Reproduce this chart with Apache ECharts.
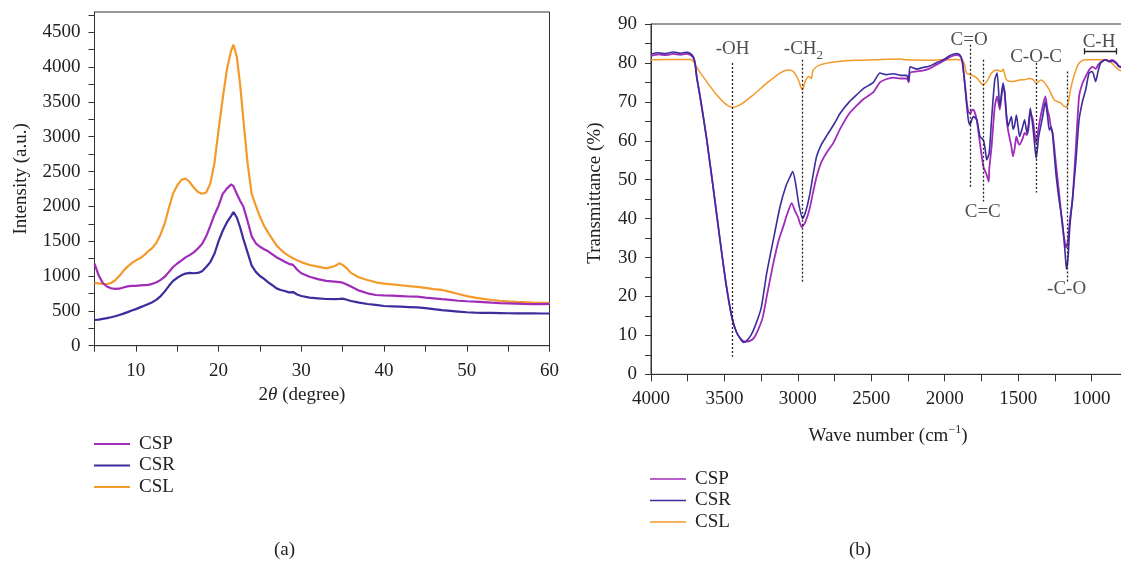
<!DOCTYPE html>
<html><head><meta charset="utf-8">
<script src="https://cdn.jsdelivr.net/npm/echarts@6/dist/echarts.min.js"></script>
<style>html,body{margin:0;padding:0;background:#fff}#c{width:1121px;height:569px}</style>
</head><body><div id="c"></div>
<script>
// ---------- XRD (a) ----------
const xrdAngle = [5,5.5,6,6.5,7,7.5,8,8.5,9,9.5,10,10.5,11,11.5,12,12.5,13,13.5,14,14.5,15,15.5,16,16.5,17,17.5,18,18.5,19,19.5,20,20.5,21,21.5,21.8,22.2,22.6,23,23.5,24,24.5,25,25.5,26,26.5,27,27.5,28,28.5,29,29.5,30,31,32,33,34,34.6,35,35.5,36,37,38,39,40,41,42,43,44,45,46,47,48,49,50,51,52,53,54,55,56,57,58,59,60];
const xrdCSL = [900,895,888,885,900,940,1000,1075,1135,1185,1225,1255,1300,1355,1405,1480,1600,1760,1980,2185,2300,2380,2400,2350,2270,2205,2180,2200,2330,2620,3100,3550,3960,4230,4320,4150,3750,3240,2620,2180,2010,1850,1720,1620,1530,1440,1380,1330,1290,1255,1225,1200,1158,1134,1110,1140,1182,1160,1110,1045,978,943,910,892,880,868,855,845,830,812,800,772,742,712,690,672,656,645,636,630,625,620,616,612];
const xrdCSP = [1180,1010,900,850,825,815,818,835,852,858,860,865,870,874,888,912,945,990,1060,1130,1180,1222,1268,1300,1340,1395,1460,1570,1720,1880,2010,2180,2255,2315,2290,2180,2080,1995,1790,1570,1470,1420,1385,1355,1310,1270,1238,1205,1175,1160,1090,1040,990,955,930,920,912,905,880,850,790,752,728,722,718,712,706,704,690,680,668,658,645,638,632,625,618,612,608,604,600,598,598,600];
const xrdCSR = [369,375,385,395,408,422,440,460,482,505,525,550,575,600,625,662,712,780,860,930,975,1010,1035,1045,1040,1045,1070,1130,1200,1320,1500,1650,1770,1860,1920,1840,1700,1530,1340,1150,1060,1000,960,910,868,823,800,785,765,770,735,713,690,680,670,668,672,675,660,642,618,599,585,570,565,560,555,550,540,525,510,500,490,480,475,472,470,468,466,465,464,463,462,462];
const xrdXTicks = {min:5, max:60, step:5};
const xrdYTicks = {min:0, max:4790, step:250};

// ---------- FTIR (b) ----------
const waveCSR = [4000,3950,3900,3850,3800,3760,3730,3712,3700,3689,3666,3644,3620,3580,3530,3490,3450,3420,3390,3371,3350,3320,3290,3250,3212,3170,3121,3080,3050,3035,3015,2995,2967,2945,2920,2895,2872,2840,2800,2750,2713,2650,2600,2550,2486,2441,2400,2350,2300,2259,2245,2236,2191,2150,2100,2060,2032,2000,1960,1918,1895,1880,1862,1850,1839,1828,1815,1805,1782,1760,1737,1725,1714,1697,1681,1659,1643,1625,1603,1592,1580,1569,1546,1535,1524,1512,1500,1490,1470,1456,1440,1430,1417,1400,1385,1377,1360,1333,1315,1300,1288,1275,1265,1243,1221,1198,1180,1171,1160,1148,1130,1108,1085,1062,1040,1017,995,972,955,938,904,880,859,830,813,760];
const transCSR = [82.3,82.6,82.4,82.8,82.5,82.7,82.4,81.6,80,76.5,71.4,66.2,60.2,49,34.5,23.5,14.8,11,9,8.2,8.6,10,12.5,17,26,34,43.1,48.5,51,52.1,49,44,40,42,46,51.5,56,59,61.5,64.5,67,70,71.8,73.5,75,77.4,77,77.2,76.8,76.8,75.5,79,78.4,78.8,79.2,80,80.4,81,82,82.4,82,80.5,74,69,65.4,64.1,65.5,66.2,65.4,61.1,60.2,58,55.1,56.9,65.4,75.7,77.4,68.8,74.8,72.3,67,63.7,66.2,63,64,66.6,63.5,61.1,63.5,65.4,62,64,68.4,63.7,58,55.5,61.1,66.2,70,66.5,62.8,63.5,61.5,51.7,44.8,38.8,31.1,27,30,38,45,54.2,65.4,70.1,73.1,77.4,77.8,75.2,78,80,80.8,80.3,80.5,79.8,79,78.5];
const waveCSP = [4000,3950,3900,3850,3800,3760,3730,3712,3700,3689,3666,3644,3620,3580,3530,3490,3450,3420,3390,3360,3326,3300,3270,3240,3212,3170,3130,3099,3070,3042,3020,3000,2974,2950,2920,2895,2872,2840,2800,2759,2713,2650,2600,2550,2486,2441,2400,2350,2300,2259,2245,2236,2191,2150,2100,2060,2032,2000,1960,1918,1895,1880,1862,1850,1839,1828,1815,1805,1782,1760,1737,1714,1700,1697,1681,1659,1643,1625,1603,1592,1580,1569,1546,1535,1524,1512,1500,1490,1470,1456,1440,1430,1417,1400,1385,1377,1360,1333,1315,1300,1288,1275,1265,1243,1221,1198,1180,1172,1160,1148,1130,1108,1085,1062,1040,1017,995,972,955,938,904,880,859,830,813,760];
const transCSP = [81.8,82.2,82,82.3,82.1,82.3,82,81.3,79.8,76.5,71.4,66.2,60.2,49,34.5,23.5,14.8,11,9.2,8.4,8.6,9.3,11.5,14.5,20,28,34.5,38,41.5,44,42,40.5,37.8,39,42.5,47,50.8,54.5,57.2,59.4,63,67,69,70.8,72.5,75,75.8,76.2,76,76,75,77.5,77.8,78,78.6,79.5,80,80.7,81.6,82,81.7,80.2,74.5,70,67.5,67,67.8,68,65.4,59.4,53.4,51.2,49.5,52.6,58.5,68.8,71.4,68,74,72.7,66,62.8,58.5,56,58,61.1,59.5,59,60.5,62,61.5,63,67.1,65.4,61,59.4,63.5,68.8,71.4,68,66.2,63,62,54.2,46.5,38,33.5,32.6,34.5,39.7,44.7,57.6,71.4,74.8,76.5,78.2,79,78.5,79.5,80.2,80.8,80.5,80.8,80,79.2,78.8];
const waveCSL = [4000,3900,3800,3730,3712,3678,3621,3553,3485,3444,3394,3303,3212,3121,3065,3031,2997,2970,2947,2924,2909,2895,2849,2713,2600,2488,2300,2259,2100,2032,1918,1873,1851,1828,1794,1771,1741,1714,1681,1647,1613,1603,1580,1546,1490,1456,1422,1400,1377,1343,1310,1288,1254,1209,1180,1164,1141,1118,1085,1040,949,881,813,760];
const transCSL = [80.8,80.9,80.9,80.9,80.4,78.2,75.2,71.8,69.2,68.6,69.2,71.8,74.8,77.4,78.2,77.8,75.7,73.1,75.5,76.5,76,78.2,79.5,80.4,80.7,80.8,81,80.8,80.7,80.8,80.9,80.3,77.4,77,76.5,75.7,74.4,75.2,77.4,78.2,77.8,78.4,75.7,75.2,75.6,75.7,76,75.8,74.8,75.6,74.4,73.1,70.5,69.7,68.7,69,73.6,76.9,79.9,80.8,80.8,80.5,78.2,77.8];
const ftirXTicks = {min:500, max:4000, step:250};
const ftirYTicks = {min:0, max:90, step:5};

// band annotations
const bandNames  = ['-OH','-CH{s|2}','C=O','C=C','C-O-C','-C-O','C-H'];
const bandLabelX = [3444, 2962, 1834, 1741, 1378, 1170, 949];
const bandLabelY = [83.5, 83.5, 86.0, 41.6, 81.4, 21.9, 85.3];
const dropWave   = [3444, 2967, 1828, 1741, 1378, 1165];
const dropTop    = [80.0, 80.8, 84.7, 80.8, 80.0, 77.8];
const dropBottom = [4.5, 23.8, 48.2, 44.4, 46.7, 23.4];
const bracketWave = [1052, 829];
const bracketLevel = 83.0;

const seriesNames = ['CSP','CSR','CSL'];
const colors = {CSP:'#a12cb9', CSR:'#3c2c9c', CSL:'#f39a2b'};

const FONT = "'Liberation Serif','DejaVu Serif',serif";
const TXT = '#222';
const zip = (a,b)=>a.map((v,i)=>[v,b[i]]);

const chart = echarts.init(document.getElementById('c'), null, {renderer:'canvas'});

const axisCommon = {
  axisLine:{show:true, onZero:false, lineStyle:{color:'#333', width:1}},
  axisTick:{show:true, inside:false, length:6, lineStyle:{color:'#333', width:1}},
  splitLine:{show:false},
  nameTextStyle:{fontFamily:FONT, fontSize:19, color:TXT},
};
const lbl = (extra)=>Object.assign({fontFamily:FONT, fontSize:19, color:TXT}, extra);

const dropLines = dropWave.map((w,i)=>[{coord:[w, dropTop[i]]},{coord:[w, dropBottom[i]]}]);
const bracketLines = [
  [{coord:[bracketWave[0], bracketLevel]},{coord:[bracketWave[1], bracketLevel]}],
  [{coord:[bracketWave[0], bracketLevel-0.8]},{coord:[bracketWave[0], bracketLevel+0.8]}],
  [{coord:[bracketWave[1], bracketLevel-0.8]},{coord:[bracketWave[1], bracketLevel+0.8]}]
];

const option = {
  animation:false,
  backgroundColor:'#fff',
  grid:[
    {left:94.5, top:12, width:455, height:333.7, show:true, borderColor:'#333', borderWidth:1, containLabel:false, outerBoundsMode:'none'},
    {left:651, top:24, width:514, height:350.3, show:true, borderColor:'#333', borderWidth:1, containLabel:false, outerBoundsMode:'none'}
  ],
  xAxis:[
    Object.assign({}, axisCommon, {
      gridIndex:0, type:'value', min:xrdXTicks.min, max:xrdXTicks.max, interval:xrdXTicks.step,
      axisLabel:lbl({margin:16, formatter:v=> v%10===0 ? String(v) : ''}),
      name:'2{it|θ} (degree)', nameLocation:'middle', nameGap:40,
      nameTextStyle:{fontFamily:FONT, fontSize:19, color:TXT, padding:[0,40,0,0],
        rich:{it:{fontFamily:FONT, fontSize:19, fontStyle:'italic', color:TXT}}}
    }),
    Object.assign({}, axisCommon, {
      gridIndex:1, type:'value', inverse:true, min:ftirXTicks.min, max:ftirXTicks.max, interval:ftirXTicks.step,
      axisTick:{show:true, length:7, lineStyle:{color:'#333'}},
      axisLabel:lbl({margin:15, formatter:v=> v%500===0 ? String(v) : ''}),
      name:'Wave number (cm{sup|−1})', nameLocation:'middle', nameGap:50,
      nameTextStyle:{fontFamily:FONT, fontSize:19, color:TXT, padding:[0,40,0,0],
        rich:{sup:{fontFamily:FONT, fontSize:12, color:TXT, padding:[0,0,12,0]}}}
    })
  ],
  yAxis:[
    Object.assign({}, axisCommon, {
      gridIndex:0, type:'value', min:xrdYTicks.min, max:xrdYTicks.max, interval:xrdYTicks.step,
      axisLabel:lbl({margin:14, showMaxLabel:false, formatter:v=> v%500===0 ? String(v) : ''}),
      name:'Intensity (a.u.)', nameLocation:'middle', nameGap:64
    }),
    Object.assign({}, axisCommon, {
      gridIndex:1, type:'value', min:ftirYTicks.min, max:ftirYTicks.max, interval:ftirYTicks.step,
      axisLabel:lbl({margin:14, formatter:v=> v%10===0 ? String(v) : ''}),
      name:'Transmittance (%)', nameLocation:'middle', nameGap:46,
      nameTextStyle:{fontFamily:FONT, fontSize:19, color:TXT, padding:[0,0,0,12]}
    })
  ],
  legend:[
    {data:seriesNames, orient:'vertical', left:89, top:429, itemWidth:36, itemHeight:14, itemGap:1.5,
     icon:'path://M0,6 L36,6 L36,8 L0,8 Z',
     textStyle:{fontFamily:FONT, fontSize:19, color:TXT, lineHeight:20, padding:[0,0,0,4]}},
    {data:seriesNames, orient:'vertical', left:645, top:464, itemWidth:36, itemHeight:14, itemGap:1.5,
     icon:'path://M0,6 L36,6 L36,7.5 L0,7.5 Z',
     textStyle:{fontFamily:FONT, fontSize:19, color:TXT, lineHeight:20, padding:[0,0,0,4]}}
  ],
  graphic:[
    {type:'text', left:274, top:541, style:{text:'(a)', font:"19px 'Liberation Serif'", fill:TXT}},
    {type:'text', left:849, top:541, style:{text:'(b)', font:"19px 'Liberation Serif'", fill:TXT}}
  ],
  series:[
    {name:'CSL', type:'line', xAxisIndex:0, yAxisIndex:0, data:zip(xrdAngle, xrdCSL), symbol:'none', color:colors.CSL, lineStyle:{width:2.2}, z:2},
    {name:'CSP', type:'line', xAxisIndex:0, yAxisIndex:0, data:zip(xrdAngle, xrdCSP), symbol:'none', color:colors.CSP, lineStyle:{width:2.2}, z:3},
    {name:'CSR', type:'line', xAxisIndex:0, yAxisIndex:0, data:zip(xrdAngle, xrdCSR), symbol:'none', color:colors.CSR, lineStyle:{width:2.2}, z:4},
    {name:'CSL', type:'line', xAxisIndex:1, yAxisIndex:1, data:zip(waveCSL, transCSL), symbol:'none', color:colors.CSL, lineStyle:{width:1.5}, smooth:0.3, z:2},
    {name:'CSP', type:'line', xAxisIndex:1, yAxisIndex:1, data:zip(waveCSP, transCSP), symbol:'none', color:colors.CSP, lineStyle:{width:1.8}, smooth:0.2, z:3},
    {name:'CSR', type:'line', xAxisIndex:1, yAxisIndex:1, data:zip(waveCSR, transCSR), symbol:'none', color:colors.CSR, lineStyle:{width:1.6}, smooth:0.2, z:4},
    {name:'bands', type:'scatter', xAxisIndex:1, yAxisIndex:1, symbolSize:0, silent:true, z:6,
     data:bandNames.map((n,i)=>({value:[bandLabelX[i], bandLabelY[i]], label:{formatter:n}})),
     label:{show:true, position:'inside', fontFamily:FONT, fontSize:19, color:TXT,
       rich:{s:{fontFamily:FONT, fontSize:13, color:TXT, padding:[12,0,0,0]}}},
     markLine:{silent:true, symbol:['none','none'], label:{show:false},
       lineStyle:{type:[2,2], color:'#222', width:1.3}, data:dropLines}},
    {name:'bracket', type:'scatter', xAxisIndex:1, yAxisIndex:1, symbolSize:0, silent:true, data:[], z:6,
     markLine:{silent:true, symbol:['none','none'], label:{show:false},
       lineStyle:{type:'solid', color:'#222', width:1.3}, data:bracketLines}}
  ]
};
chart.setOption(option);
</script>
</body></html>
